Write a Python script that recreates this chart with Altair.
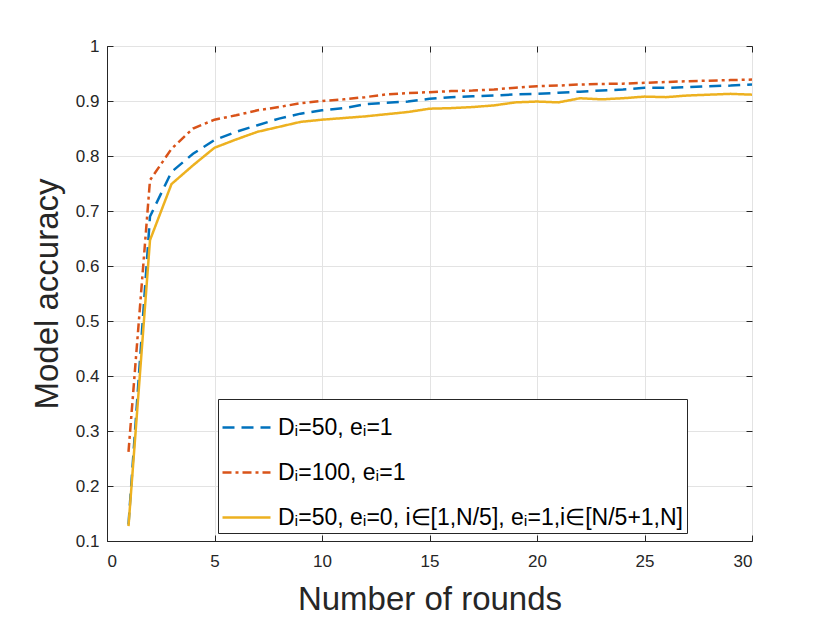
import altair as alt
import pandas as pd

rounds = list(range(1, 31))
acc_d50 = [0.130, 0.690, 0.771, 0.804, 0.829, 0.844, 0.856, 0.868, 0.877, 0.883,
           0.887, 0.894, 0.897, 0.899, 0.904, 0.907, 0.9085, 0.910, 0.912, 0.913,
           0.915, 0.917, 0.919, 0.921, 0.924, 0.924, 0.925, 0.927, 0.928, 0.930]
acc_d100 = [0.262, 0.756, 0.813, 0.850, 0.866, 0.874, 0.883, 0.889, 0.896, 0.900,
            0.903, 0.907, 0.912, 0.9145, 0.916, 0.918, 0.919, 0.921, 0.924, 0.927,
            0.928, 0.930, 0.931, 0.9315, 0.933, 0.9345, 0.936, 0.937, 0.938, 0.939]
acc_mixed = [0.127, 0.647, 0.749, 0.783, 0.815, 0.830, 0.844, 0.853, 0.862, 0.866,
             0.869, 0.872, 0.876, 0.880, 0.886, 0.887, 0.889, 0.892, 0.8975, 0.899,
             0.8975, 0.905, 0.903, 0.905, 0.908, 0.907, 0.910, 0.9115, 0.913, 0.9115]
labels = ["Dᵢ=50, eᵢ=1", "Dᵢ=100, eᵢ=1",
          "Dᵢ=50, eᵢ=0, i∈[1,N/5], eᵢ=1,i∈[N/5+1,N]"]
colors = ["#0072BD", "#D95319", "#EDB120"]
dashes = [[12, 7], [9, 4, 3, 4], [1, 0]]
x_ticks = [0, 5, 10, 15, 20, 25, 30]
y_ticks = [0.1, 0.2, 0.3, 0.4, 0.5, 0.6, 0.7, 0.8, 0.9, 1.0]

rows = []
for lab, vals in zip(labels, [acc_d50, acc_d100, acc_mixed]):
    for r, v in zip(rounds, vals):
        rows.append({"round": r, "acc": v, "series": lab})
df = pd.DataFrame(rows)

W, H = 645, 495
FONT = "Liberation Sans"
AX = "#262626"
x_scale = alt.Scale(domain=[0, 30], nice=False)
y_scale = alt.Scale(domain=[0.1, 1.0], nice=False)

main = alt.Chart(df).mark_line(strokeWidth=2.5).encode(
    x=alt.X("round:Q", scale=x_scale, axis=alt.Axis(
        values=x_ticks, title="Number of rounds", tickSize=0, grid=True,
        gridColor="#e3e3e3", domainColor=AX, labelPadding=12, titlePadding=14,
        labelFontSize=17, titleFontSize=33, labelFont=FONT, titleFont=FONT,
        labelColor=AX, titleColor=AX, titleFontWeight="normal", format="d")),
    y=alt.Y("acc:Q", scale=y_scale, axis=alt.Axis(
        values=y_ticks, title="Model accuracy", tickSize=0, grid=True,
        gridColor="#e3e3e3", domainColor=AX, labelPadding=8, titlePadding=11,
        labelFontSize=17, titleFontSize=33, labelFont=FONT, titleFont=FONT,
        labelColor=AX, titleColor=AX, titleFontWeight="normal",
        labelExpr="datum.value == 1 ? '1' : format(datum.value, '.1f')")),
    color=alt.Color("series:N", sort=labels,
                    scale=alt.Scale(domain=labels, range=colors),
                    legend=alt.Legend(title=None)),
    strokeDash=alt.StrokeDash("series:N", sort=labels,
                              scale=alt.Scale(domain=labels, range=dashes),
                              legend=alt.Legend(title=None)),
)

def tick_layer(xorient, yorient):
    return alt.Chart(df).mark_line(opacity=0).encode(
        x=alt.X("round:Q", scale=x_scale, axis=alt.Axis(
            orient=xorient, offset=-H, values=x_ticks, labels=False, domain=False,
            grid=False, tickSize=6, tickColor=AX, title=None)),
        y=alt.Y("acc:Q", scale=y_scale, axis=alt.Axis(
            orient=yorient, offset=-W, values=y_ticks, labels=False, domain=False,
            grid=False, tickSize=6, tickColor=AX, title=None)),
        detail="series:N",
    )

chart = alt.layer(main, tick_layer("top", "right"), tick_layer("bottom", "left")).resolve_axis(
    x="independent", y="independent"
).properties(
    width=W, height=H,
    autosize=alt.AutoSizeParams(type="none"),
    padding={"left": 99, "top": 38, "right": 60, "bottom": 74},
).configure_view(
    stroke=AX, strokeWidth=1
).configure_legend(
    orient="none", legendX=111, legendY=353, symbolType="stroke",
    symbolSize=2304, symbolStrokeWidth=2.5, labelFontSize=23, labelFont=FONT,
    labelColor="black", strokeColor=AX, fillColor="white", padding=3,
    rowPadding=7, labelOffset=6, labelLimit=700,
)

chart.save("out.html", embed_options={"renderer": "svg", "actions": False})
